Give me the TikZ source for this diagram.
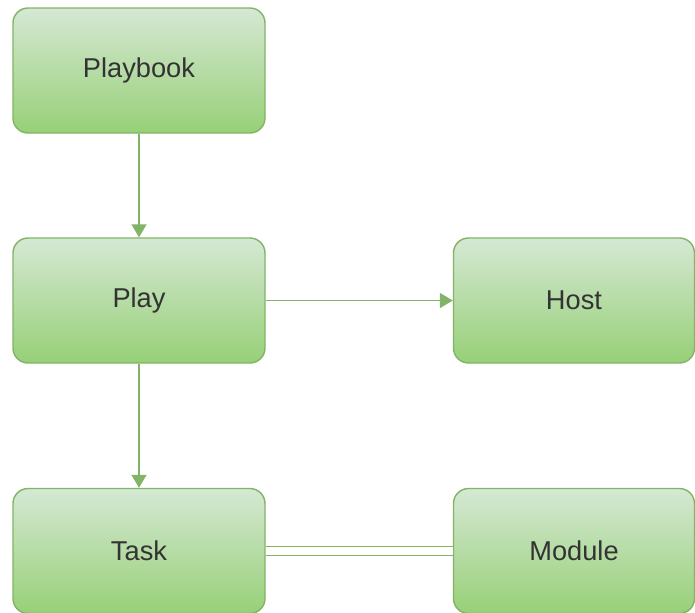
\documentclass[tikz,border=0pt]{standalone}
\usepackage{fontspec}
\setmainfont{Liberation Sans}
\usetikzlibrary{arrows.meta}
\definecolor{boxline}{HTML}{82B366}
\definecolor{boxtop}{HTML}{D5E8D4}
\definecolor{boxbottom}{HTML}{97D077}
\begin{document}
\begin{tikzpicture}[
    box/.style={draw=boxline,line width=0.8pt,rounded corners=0.3cm,
      top color=boxtop,bottom color=boxbottom,
      minimum width=5.04cm,minimum height=2.5cm,inner sep=0pt,
      text=black!80,font=\fontsize{15.5}{18}\selectfont},
    smallbox/.style={box,minimum width=4.82cm},
    link/.style={draw=boxline,line width=0.8pt,-{Triangle[width=0.3cm,length=0.26cm]}}
  ]
    \useasboundingbox (0,0) rectangle (13.9,-12.26);
    \node[box] (playbook) at (2.78,-1.41) {Playbook};
    \node[box] (play) at (2.78,-6.01) {Play};
    \node[box] (task) at (2.78,-11.02) {Task};
    \node[smallbox] (host) at (11.48,-6.01) {Host};
    \node[smallbox] (module) at (11.48,-11.02) {Module};
    \draw[link] (playbook) -- (play);
    \draw[link] (play) -- (task);
    \draw[link] (play) -- (host);
    \draw[draw=boxline,line width=0.8pt,double=white,double distance=4pt] (task) -- (module);
  \end{tikzpicture}
\end{document}
